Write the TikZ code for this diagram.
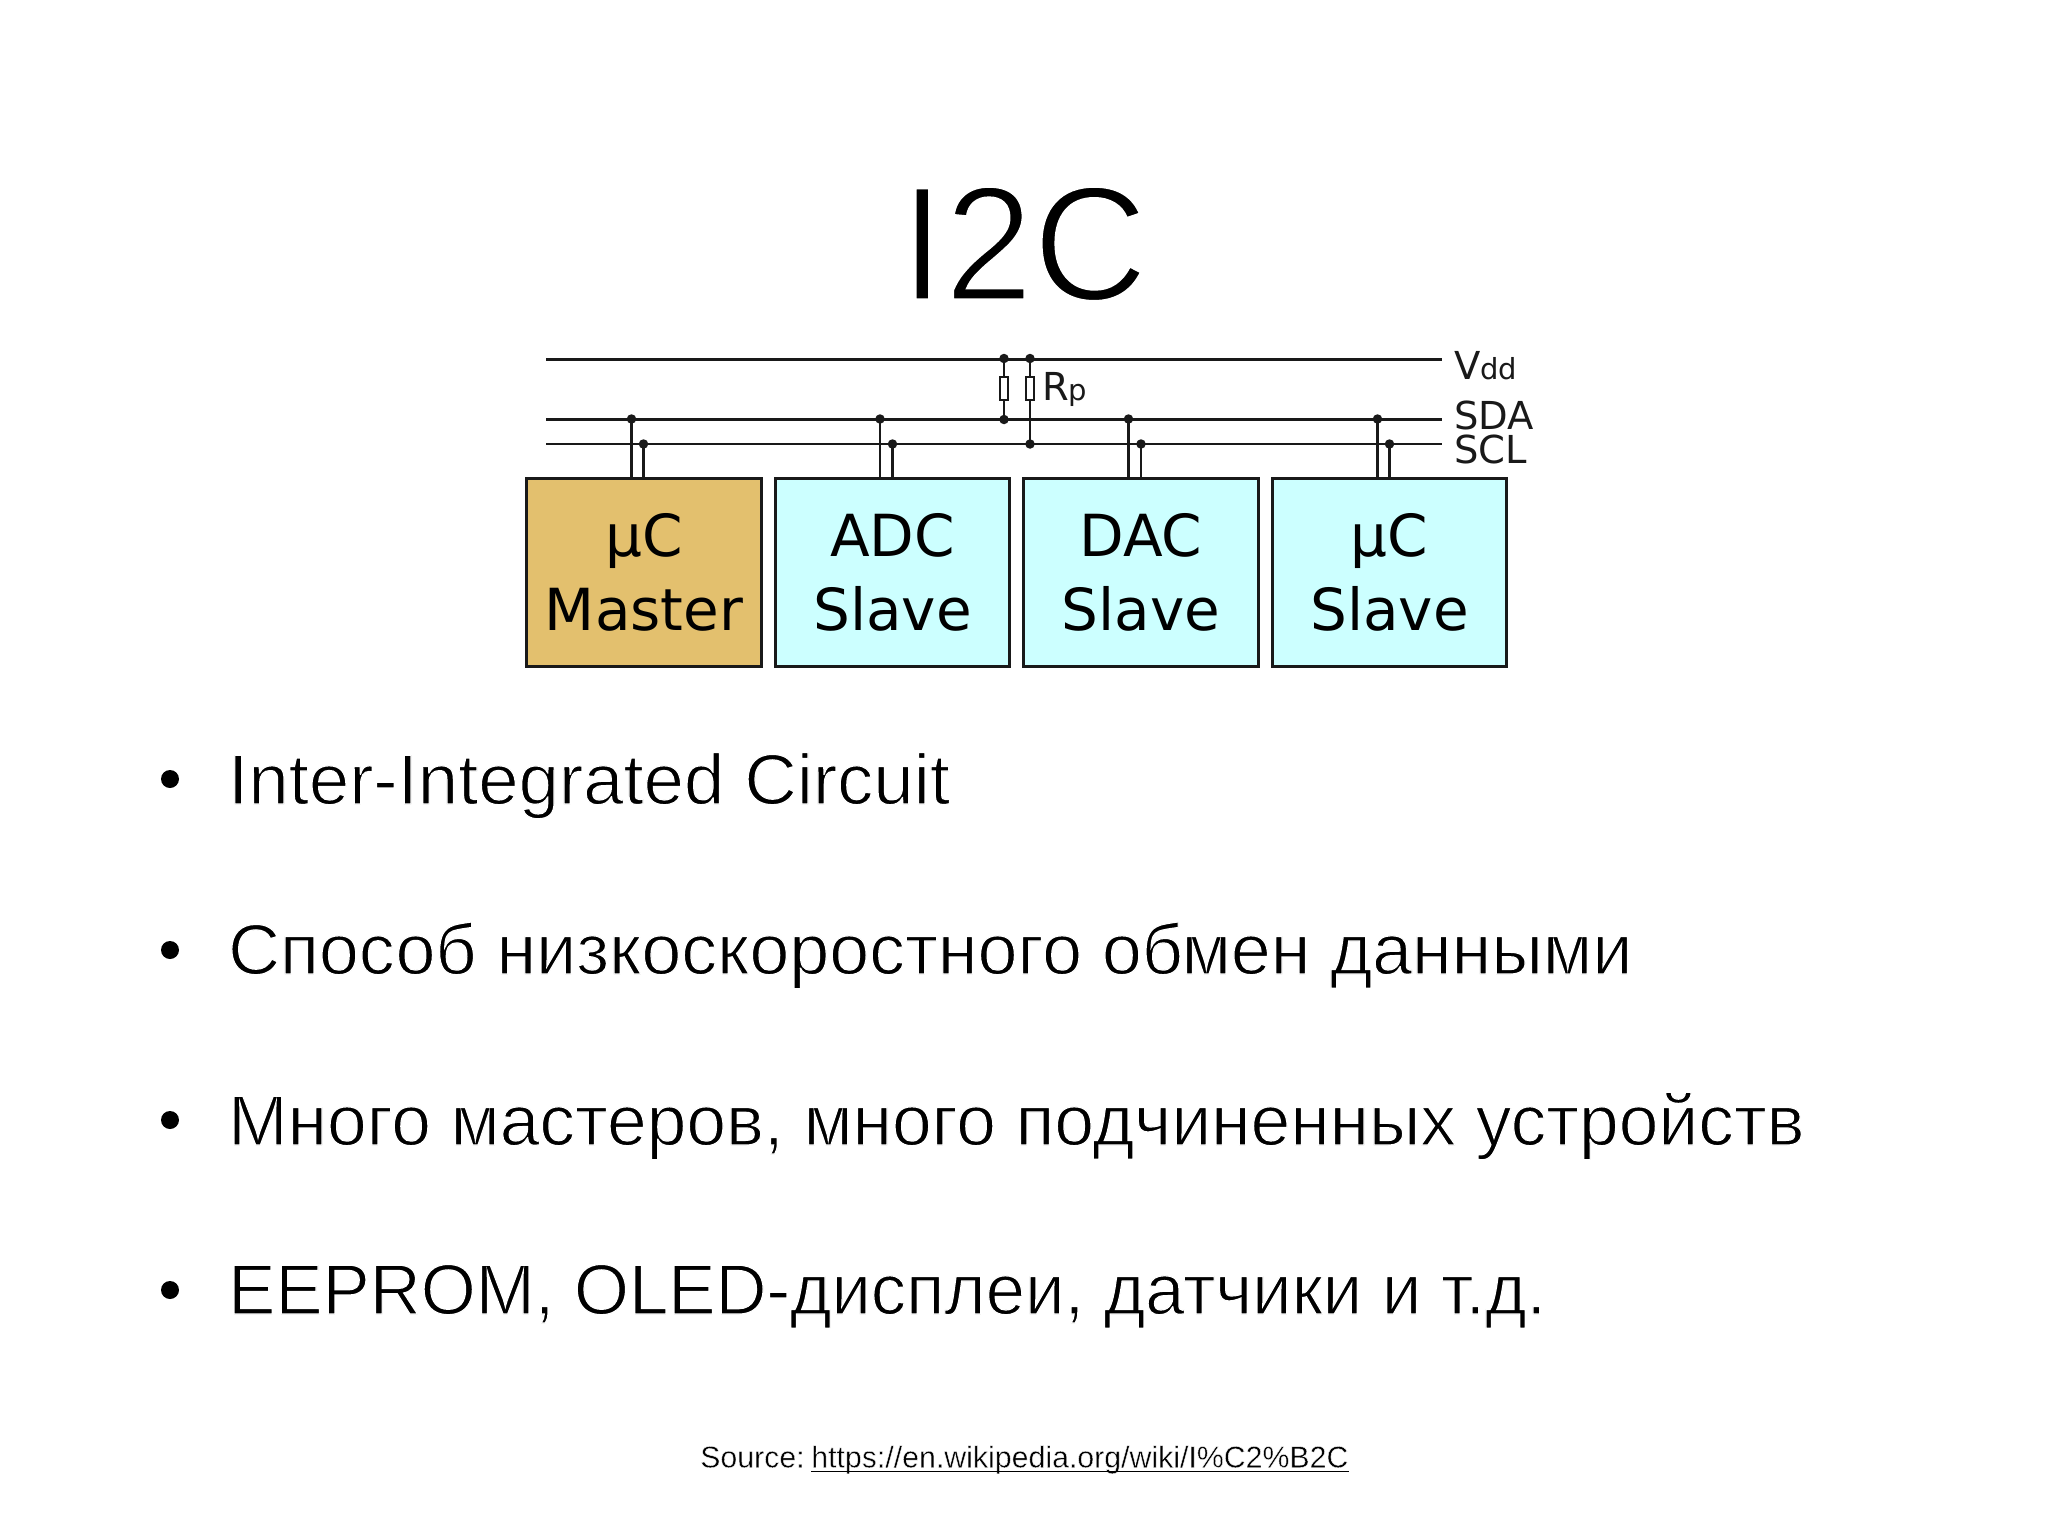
\documentclass[tikz,border=0pt]{standalone}
\usepackage{fontspec}
\setmainfont{Liberation Sans}
\newfontfamily\diagf{DejaVu Sans}
\newcommand{\thinned}[2][1.2]{\special{pdf:code 2 Tr 1 1 1 RG #1 w}#2\special{pdf:code 0 Tr}}
\newcommand{\stretched}[2]{\addfontfeatures{FakeStretch=#1}\thinned{#2}}
\definecolor{inkc}{HTML}{000000}
\definecolor{masterc}{HTML}{E3C06E}
\definecolor{slavec}{HTML}{CCFFFF}
\tikzset{
  x=1pt,y=-1pt,
  devbox/.style={draw=black!90,line width=3.4pt,minimum width=234.5pt,minimum height=188pt,inner sep=0pt,font=\diagf\fontsize{58}{74}\selectfont,align=center,text=black,execute at end node={\par\vspace{2.6pt}}},
  master/.style={devbox,fill=masterc},
  slave/.style={devbox,fill=slavec},
  wire/.style={draw=black!90,line width=2.8pt},
  stub/.style={draw=black!90,line width=2.2pt},
  dot/.style={circle,fill=black!90,inner sep=0pt,minimum size=9.5pt},
  res/.style={draw=black!90,line width=1.8pt,fill=white,minimum width=8pt,minimum height=23.5pt,inner sep=0pt},
  buslabel/.style={anchor=base west,inner sep=0pt,font=\diagf\fontsize{38.5}{38.5}\selectfont,text=black!90},
  bodytext/.style={anchor=base west,inner sep=0pt,font=\fontsize{71}{71}\selectfont,text=inkc},
  smalltext/.style={anchor=base west,inner sep=0pt,font=\fontsize{30.3}{30.3}\selectfont,text=inkc},
  bullet/.style={circle,fill=inkc,inner sep=0pt,minimum size=18pt},
}
\begin{document}
\begin{tikzpicture}
\useasboundingbox (0,0) rectangle (2048,1536);
\fill[white] (0,0) rectangle (2048,1536);
\node[anchor=base,inner sep=0pt,font=\fontsize{163}{163}\selectfont,text=inkc] (title) at (1024,300) {\addfontfeatures{FakeStretch=0.975}\thinned[3.2]{I2C}};
% devices
\node[master] (m) at (644,572.3) {µC\\Master};
\node[slave] (adc) at (892.5,572.3) {ADC\\Slave};
\node[slave] (dac) at (1141,572.3) {DAC\\Slave};
\node[slave] (us) at (1389.5,572.3) {µC\\Slave};
% bus ends
\coordinate (vl) at (546,359.5); \coordinate (vr) at (1442,359.5);
\coordinate (al) at (546,419.5); \coordinate (ar) at (1442,419.5);
\coordinate (cl) at (546,444); \coordinate (cr) at (1442,444);
\draw[wire] (vl) -- (vr);
\draw[wire] (al) -- (ar);
\draw[wire] (cl) -- (cr);
% junctions
\node[dot] (v1) at (1004,358.5) {}; \node[dot] (v2) at (1030,358.5) {};
\node[dot] (a0) at (1004,419.5) {}; \node[dot] (c0) at (1030,444) {};
\foreach \n/\xa/\xb/\dev in {1/631.5/643.5/m,2/880/892.5/adc,3/1128.5/1141/dac,4/1377.5/1389.5/us}{
  \node[dot] (sa\n) at (\xa,419) {};
  \node[dot] (sc\n) at (\xb,444) {};
  \draw[stub] (sa\n.center) -- (sa\n.center |- \dev.north);
  \draw[stub] (sc\n.center) -- (sc\n.center |- \dev.north);
}
% pull-ups
\draw[stub] (v1.center) -- (a0.center);
\draw[stub] (v2.center) -- (c0.center);
\node[res] (r1) at (1004,388.6) {};
\node[res] (r2) at (1030,388.6) {};
\node[buslabel] (rp) at (1042,400) {R\fontsize{29}{29}\selectfont p};
\node[buslabel] (lv) at (1454,379.6) {V\fontsize{29}{29}\selectfont dd};
\node[buslabel] (la) at (1454,429.5) {SDA};
\node[buslabel] (lc) at (1454,463) {SCL};
% text
\foreach \i/\y in {1/779,2/950,3/1120,4/1290}{\node[bullet] (b\i) at (170,\y) {};}
\node[bodytext] (t1) at (228,804) {\stretched{1.022}{Inter-Integrated Circuit}};
\node[bodytext] (t2) at (228,974) {\stretched{1.011}{Способ низкоскоростного обмен данными}};
\node[bodytext] (t3) at (228,1145) {\stretched{1.005}{Много мастеров, много подчиненных устройств}};
\node[bodytext] (t4) at (228,1314) {\stretched{0.996}{EEPROM, OLED-дисплеи, датчики и т.д.}};
\node[smalltext] (src) at (700,1467.5) {\thinned[0.4]{Source:}};
\node[smalltext] (url) at (811,1467.5) {\thinned[0.4]{https://en.wikipedia.org/wiki/I\%C2\%B2C}};
\draw[inkc,line width=1.6pt] (url.base west |- 0,1471.5) -- (1349,1471.5);
\end{tikzpicture}
\end{document}
